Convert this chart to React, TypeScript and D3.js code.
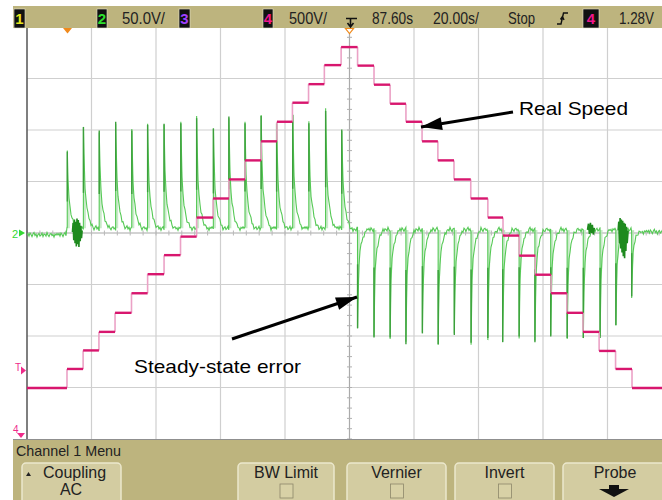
import React from "react";
import * as d3 from "d3";

const W = 662;
const H = 500;

// ---- screen divisions (20 s/div horizontally, 8 vertical divisions) ----
const timeDomain: [number, number] = [-100, 100];
const divDomain: [number, number] = [-4, 4];
const gridTimes = [-80, -60, -40, -20, 0, 20, 40, 60, 80];
const gridDivs = [-3, -2, -1, 0, 1, 2, 3];

// ---- channel 4: real speed staircase (divisions) ----
const speedStepTimes = [
  -87.6, -82.6, -77.7, -72.7, -67.6, -62.6, -57.5, -52.4, -47.4, -42.3, -37.4, -32.4,
  -27.4, -22.5, -17.7, -12.7, -7.8, -2.6, 2.5, 7.6, 12.6, 17.5, 22.5, 27.4, 32.4, 37.6,
  42.9, 47.6, 52.6, 57.6, 62.5, 67.4, 72.4, 77.4, 82.5, 87.6,
];
const speedLevels = [
  -3.01, -2.64, -2.28, -1.92, -1.55, -1.17, -0.8, -0.43, -0.07, 0.3, 0.67, 1.04, 1.41,
  1.78, 2.16, 2.53, 2.89, 3.26, 3.61, 3.25, 2.88, 2.51, 2.16, 1.78, 1.41, 1.04, 0.67, 0.3,
  -0.05, -0.44, -0.81, -1.17, -1.55, -1.92, -2.29, -2.64, -3.01,
];

// ---- channel 2: speed error spikes ----
const errorSpikeTimes = [
  -87.5, -82.5, -77.6, -72.5, -67.5, -62.6, -57.5, -52.3, -47.4, -42.2, -37.4, -32.4,
  -27.4, -22.6, -17.6, -12.6, -7.4, -2.4, 2.5, 7.6, 12.6, 17.5, 22.6, 27.5, 32.5, 37.7,
  42.9, 47.5, 52.6, 57.5, 62.4, 67.5, 72.5, 77.7, 82.6, 87.5,
];
const errorSpikePeaks = [
  1.58, 2.06, 1.99, 2.16, 1.99, 2.1, 2.12, 2.13, 2.23, 2.03, 2.26, 2.13, 2.27, 2.13, 2.29,
  2.13, 2.37, 2.01, -1.85, -2.03, -2.03, -2.16, -1.95, -2.16, -1.98, -2.13, -2.04, -2.12,
  -2.01, -2.12, -2.01, -2.04, -2.04, -2.04, -1.79, -1.23,
];
// decay of a spike, one entry per screen pixel after the edge (fraction of height)
const posDecay = [1, 0.52, 0.33, 0.24, 0.17, 0.12, 0.08, 0.05, 0.03, 0.015, 0];
const negDecay = [1, 0.4, 0.26, 0.18, 0.13, 0.09, 0.06, 0.04, 0.02, 0.01, 0];
// baseline level of channel 2 by time segment
const baselineStarts = [-100, -87.6, 0, 90];
const baselineLevels = [-0.04, 0.09, 0.06, 0.02];
// baseline noise (divisions)
const noise = [
  0.0, 0.03, -0.02, 0.04, 0.01, -0.03, 0.02, 0.05, -0.01, 0.02, -0.04, 0.01, 0.03, -0.02,
  0.0, 0.04, -0.03, 0.02, 0.01, -0.02, 0.05, 0.0, -0.03, 0.02, 0.03, -0.01, 0.01, -0.04,
  0.02, 0.0, 0.03,
];
// dark noise bursts [time, value]
const burstA: [number, number][] = [
  [-85.9, 0.02], [-85.7, 0.2], [-85.5, -0.14], [-85.3, 0.26], [-85.1, -0.2], [-84.9, 0.22],
  [-84.7, -0.26], [-84.5, 0.28], [-84.3, -0.22], [-84.1, 0.25], [-83.9, -0.27], [-83.7, 0.2],
  [-83.5, -0.16], [-83.3, 0.14], [-83.1, -0.1], [-82.9, 0.05],
];
const burstB: [number, number][] = [
  [83.3, 0.05], [83.5, 0.22], [83.7, -0.2], [83.9, 0.29], [84.1, -0.3], [84.3, 0.26],
  [84.5, -0.38], [84.7, 0.24], [84.9, -0.45], [85.1, 0.2], [85.3, -0.49], [85.5, 0.18],
  [85.7, -0.35], [85.9, 0.12], [86.1, -0.2], [86.4, 0.05],
];
const burstC: [number, number][] = [
  [73.8, 0.06], [74.1, 0.18], [74.4, -0.02], [74.7, 0.2], [75.0, 0.0], [75.3, 0.16],
  [75.6, -0.03], [75.9, 0.1],
];

// ---- annotations ----
const labels = [
  { text: "Real Speed", x: 519, y: 115, len: 109 },
  { text: "Steady-state error", x: 134, y: 373, len: 167 },
];
const arrows = [
  { x1: 513, y1: 112, x2: 421, y2: 127 },
  { x1: 232, y1: 339, x2: 357, y2: 297 },
];

// ---- oscilloscope status line / menu ----
const statusTexts = [
  { text: "50.0V/", x: 122, len: 43 },
  { text: "500V/", x: 289, len: 38 },
  { text: "87.60s", x: 372, len: 41 },
  { text: "20.00s/", x: 433, len: 46 },
  { text: "Stop", x: 508, len: 27 },
  { text: "1.28V", x: 619, len: 35 },
];
const channelBoxes = [
  { label: "1", x: 14, w: 11, color: "#e6e61e" },
  { label: "2", x: 97, w: 10, color: "#2ee02e" },
  { label: "3", x: 179, w: 11, color: "#a040ff" },
  { label: "4", x: 263, w: 10, color: "#f0168c" },
  { label: "4", x: 583, w: 16, color: "#f0168c" },
];
const buttons = [
  { label: "Coupling", sub: "AC", x: 22, w: 99, kind: "up" },
  { label: "BW Limit", sub: "", x: 238, w: 96, kind: "box" },
  { label: "Vernier", sub: "", x: 347, w: 99, kind: "box" },
  { label: "Invert", sub: "", x: 455, w: 99, kind: "box" },
  { label: "Probe", sub: "", x: 563, w: 104, kind: "arrow" },
];

const NARROW = "'Liberation Sans Narrow', 'Arial Narrow', 'Liberation Sans', Arial, sans-serif";
const SANS = "'Liberation Sans', Arial, sans-serif";
const BAR = "#bdb47e";
const BTN = "#d3cca1";

export default function App() {
  const x = d3.scaleLinear().domain(timeDomain).range([27, 672]);
  const y = d3.scaleLinear().domain(divDomain).range([439, 27]);
  const dt = x.invert(28) - x.invert(27);

  const baseAt = (t: number) => {
    let v = baselineLevels[0];
    baselineStarts.forEach((s, i) => {
      if (t >= s) v = baselineLevels[i];
    });
    return v;
  };

  // build channel 2 samples
  const times: number[] = [];
  for (let t = timeDomain[0]; t <= 90.5; t += dt) times.push(t);
  errorSpikeTimes.forEach((ts) => {
    times.push(ts - 0.02);
    times.push(ts);
  });
  times.sort((a, b) => a - b);
  const errPts: [number, number][] = times.map((t) => {
    const i = Math.round((t - timeDomain[0]) / dt);
    const b = baseAt(t);
    let v = b + noise[i % noise.length];
    errorSpikeTimes.forEach((ts, k) => {
      const d = (t - ts) / dt;
      const prof = errorSpikePeaks[k] > 0 ? posDecay : negDecay;
      if (d >= 0 && d < prof.length - 1) {
        const j = Math.floor(d);
        const f = prof[j] + (prof[j + 1] - prof[j]) * (d - j);
        v = v + (errorSpikePeaks[k] - b) * f;
      }
    });
    return [t, v];
  });
  const line = d3
    .line<[number, number]>()
    .x((d) => x(d[0]))
    .y((d) => y(d[1]));
  const errPath = line(errPts) || "";
  const tailPts: [number, number][] = [];
  for (let t = 90.5; t <= 100; t += dt) {
    const i = Math.round((t - timeDomain[0]) / dt);
    tailPts.push([t, baseAt(t) + noise[i % noise.length]]);
  }

  // staircase
  const segStarts = [timeDomain[0], ...speedStepTimes];
  const segEnds = [...speedStepTimes, timeDomain[1]];

  const hTicks = d3.range(-4, 4.01, 0.2);
  const vTicks = d3.range(-100, 100.01, 4);

  const arrowHead = (a: { x1: number; y1: number; x2: number; y2: number }) => {
    const dx = a.x1 - a.x2;
    const dy = a.y1 - a.y2;
    const L = Math.hypot(dx, dy);
    const ux = dx / L;
    const uy = dy / L;
    const bx = a.x2 + ux * 21;
    const by = a.y2 + uy * 21;
    const px = -uy * 6.5;
    const py = ux * 6.5;
    return `${a.x2},${a.y2} ${bx + px},${by + py} ${bx - px},${by - py}`;
  };

  return (
    <svg
      width={W}
      height={H}
      style={{ position: "absolute", left: 0, top: 0, background: "#fff" }}
    >
      <defs>
        <clipPath id="plot">
          <rect x={27} y={28} width={W - 27} height={411} />
        </clipPath>
      </defs>
      <rect x={0} y={0} width={W} height={H} fill="#fff" />

      {/* grid */}
      {gridTimes.map((t) => (
        <line key={"gv" + t} x1={x(t)} x2={x(t)} y1={28} y2={439} stroke={t === 0 ? "#aaa" : "#cfcfcf"} strokeWidth={1.2} />
      ))}
      {gridDivs.map((d) => (
        <line key={"gh" + d} x1={27} x2={W} y1={y(d)} y2={y(d)} stroke={d === 0 ? "#a8a8a8" : "#cfcfcf"} strokeWidth={1.2} />
      ))}
      {hTicks.map((d) => (
        <line key={"ht" + d} x1={x(0) - 2.5} x2={x(0) + 2.5} y1={y(d)} y2={y(d)} stroke="#b0b0b0" strokeWidth={1} />
      ))}
      {vTicks.map((t) => (
        <line key={"vt" + t} x1={x(t)} x2={x(t)} y1={y(0) - 2.5} y2={y(0) + 2.5} stroke="#b8b8b8" strokeWidth={1} />
      ))}
      <line x1={27} x2={27} y1={28} y2={440} stroke="#555" strokeWidth={1.5} />
      <line x1={13} x2={W} y1={439.5} y2={439.5} stroke="#8f8f8f" strokeWidth={1} />

      <g clipPath="url(#plot)">
        {/* channel 2 persistence bands */}
        {errorSpikeTimes.map((ts, k) => {
          const A = errorSpikePeaks[k];
          const b = baseAt(ts + 1);
          const pts: [number, number][] = [
            [ts, b],
            [ts, A],
            [ts + dt * 1.2, b + (A - b) * 0.55],
            [ts + dt * 2.5, b + (A - b) * 0.28],
            [ts + dt * 2.5, b],
          ];
          return (
            <polygon
              key={"band" + k}
              points={pts.map((p) => `${x(p[0])},${y(p[1])}`).join(" ")}
              fill="#bfe6bf"
              opacity={0.85}
            />
          );
        })}
        <path d={errPath} fill="none" stroke="#55c955" strokeWidth={1.1} />
        <path d={line(tailPts) || ""} fill="none" stroke="#55c955" strokeWidth={1.1} />
        {errorSpikeTimes.map((ts, k) => {
          const A = errorSpikePeaks[k];
          const b = baseAt(ts + 1);
          return (
            <line
              key={"edge" + k}
              x1={x(ts)}
              x2={x(ts)}
              y1={y(b + (A - b) * 0.35)}
              y2={y(A)}
              stroke="#3c9f3c"
              strokeWidth={1.4}
            />
          );
        })}
        {[burstA, burstB, burstC].map((bst, i) => (
          <path key={"burst" + i} d={line(bst) || ""} fill="none" stroke="#1e8a1e" strokeWidth={1.6} />
        ))}

        {/* channel 4 staircase */}
        {speedStepTimes.map((t, i) => (
          <line
            key={"rise" + i}
            x1={x(t)}
            x2={x(t)}
            y1={y(speedLevels[i])}
            y2={y(speedLevels[i + 1])}
            stroke="#eba2c6"
            strokeWidth={1.6}
          />
        ))}
        {speedLevels.map((v, i) => (
          <line
            key={"lvl" + i}
            x1={x(segStarts[i])}
            x2={x(segEnds[i])}
            y1={y(v)}
            y2={y(v)}
            stroke="#d8166e"
            strokeWidth={2.4}
          />
        ))}
      </g>

      {/* left markers */}
      <text x={12} y={238} fontFamily={SANS} fontSize={11} fill="#33d833">2</text>
      <polygon points="19,229.5 25,233 19,236.5" fill="#33d833" />
      <text x={15} y={371} fontFamily={SANS} fontSize={10} fill="#ef2a8a">T</text>
      <polygon points="21,366.5 26,370.5 21,374.5" fill="#ef2a8a" />
      <text x={13} y={433} fontFamily={SANS} fontSize={10} fill="#ef2a8a">4</text>
      <polygon points="17,433 25,433 21,438" fill="#ef2a8a" />

      {/* top status bar */}
      <rect x={13} y={6} width={W - 13} height={22} fill={BAR} />
      {channelBoxes.map((c, i) => (
        <g key={"cb" + i}>
          <rect x={c.x} y={9} width={c.w} height={19} fill="#111" stroke="#e8e4cc" strokeWidth={0.6} />
          <text
            x={c.x + c.w / 2}
            y={24}
            textAnchor="middle"
            fontFamily={NARROW}
            fontSize={15}
            fontWeight="bold"
            fill={c.color}
          >
            {c.label}
          </text>
        </g>
      ))}
      {statusTexts.map((s, i) => (
        <text
          key={"st" + i}
          x={s.x}
          y={24}
          fontFamily={NARROW}
          fontSize={17}
          fill="#222"
          textLength={s.len}
          lengthAdjust="spacingAndGlyphs"
        >
          {s.text}
        </text>
      ))}
      {/* trigger position & slope icons */}
      <path d="M346,18.5 H357 M350.5,18.5 V26 M347.5,23 L350.5,27 L353.5,23" fill="none" stroke="#111" strokeWidth={1.6} />
      <path d="M557,24 H561 L563.5,13 H568 M560.5,19.5 L562.5,16.5 L564,20" fill="none" stroke="#111" strokeWidth={1.4} />
      <polygon points="63,28 72,28 67.5,33.5" fill="#f08a1c" />
      <polygon points="345.5,28.5 353.5,28.5 349.5,33.5" fill="#fff" stroke="#f08a1c" strokeWidth={1.2} />

      {/* bottom menu */}
      <rect x={13} y={440} width={W - 13} height={60} fill={BAR} />
      <text x={16} y={456} fontFamily={NARROW} fontSize={15} fill="#222" textLength={105} lengthAdjust="spacingAndGlyphs">
        Channel 1  Menu
      </text>
      {buttons.map((b, i) => {
        const cx = b.x + b.w / 2;
        return (
          <g key={"btn" + i}>
            <rect x={b.x} y={463} width={b.w} height={45} rx={4} fill={BTN} stroke="#ece8cd" strokeWidth={1.5} />
            <text x={cx + (b.kind === "up" ? 3 : 0)} y={478} textAnchor="middle" fontFamily={NARROW} fontSize={16} fill="#222">
              {b.label}
            </text>
            {b.kind === "up" && (
              <>
                <polygon points="26,476 28.5,472 31,476" fill="#222" />
                <text x={71} y={494.5} textAnchor="middle" fontFamily={NARROW} fontSize={16} fill="#222">
                  {b.sub}
                </text>
              </>
            )}
            {b.kind === "box" && (
              <rect x={cx - 6} y={484} width={13} height={14} fill="#d8d1a6" stroke="#8d876a" strokeWidth={0.8} />
            )}
            {b.kind === "arrow" && (
              <polygon points="609,485 619,485 619,489 629,489 614,497 599,489 609,489" fill="#111" />
            )}
          </g>
        );
      })}

      {/* annotations */}
      {arrows.map((a, i) => (
        <g key={"ar" + i}>
          <line x1={a.x1} y1={a.y1} x2={a.x2} y2={a.y2} stroke="#000" strokeWidth={3} />
          <polygon points={arrowHead(a)} fill="#000" />
        </g>
      ))}
      {labels.map((l, i) => (
        <text
          key={"lb" + i}
          x={l.x}
          y={l.y}
          fontFamily={SANS}
          fontSize={19}
          fill="#000"
          textLength={l.len}
          lengthAdjust="spacingAndGlyphs"
        >
          {l.text}
        </text>
      ))}
    </svg>
  );
}
